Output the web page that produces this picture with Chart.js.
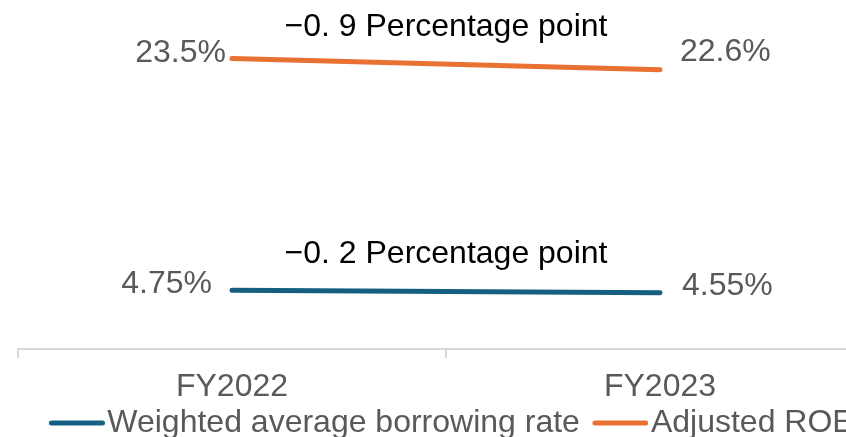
<!DOCTYPE html>
<html>
<head>
<meta charset="utf-8">
<script src="https://cdn.jsdelivr.net/npm/chart.js@4.4.1/dist/chart.umd.min.js"></script>
<style>
  html, body { margin: 0; padding: 0; background: #fff; overflow: hidden; }
  #wrap { width: 880px; height: 437px; }
</style>
</head>
<body>
<div id="wrap"><canvas id="c" width="880" height="437"></canvas></div>
<script>
// ---- data ----
const categories = ["FY2022", "FY2023"];
const borrowingRate = [4.75, 4.55];
const adjustedROE = [23.5, 22.6];
const seriesNames = ["Weighted average borrowing rate", "Adjusted ROE"];
const changeLabels = ["\u22120. 2 Percentage point", "\u22120. 9 Percentage point"];

const FONT = "'Liberation Sans', Arial, Helvetica, sans-serif";
const BLUE = "#156082";
const ORANGE = "#E97132";
const GREY = "#595959";

// legend line swatch as an image
function swatch(color) {
  const c = document.createElement('canvas');
  const W = 80, H = 10;
  c.width = W; c.height = H;
  const g = c.getContext('2d');
  g.strokeStyle = color; g.lineWidth = 5; g.lineCap = 'round';
  g.beginPath(); g.moveTo(26.5, H / 2); g.lineTo(W - 2.5, H / 2); g.stroke();
  return c;
}

// per-point label placement (dx, dy, align) – styling only
const labelPlacement = [
  [[-20, -6, 'right'], [22, -7, 'left']],
  [[-6, -5, 'right'], [20, -18, 'left']]
];

const labelsPlugin = {
  id: 'valueLabels',
  afterDatasetsDraw(chart) {
    const ctx = chart.ctx;
    ctx.save();
    ctx.font = "32px " + FONT;
    ctx.textBaseline = 'middle';
    chart.data.datasets.forEach((ds, di) => {
      const meta = chart.getDatasetMeta(di);
      meta.data.forEach((pt, i) => {
        const [dx, dy, al] = labelPlacement[di][i];
        ctx.fillStyle = GREY;
        ctx.textAlign = al;
        ctx.fillText(ds.data[i] + "%", pt.x + dx, pt.y + dy);
      });
      // change annotation centred between the two points
      const p0 = meta.data[0], p1 = meta.data[1];
      ctx.fillStyle = "#000";
      ctx.textAlign = 'center';
      ctx.fillText(changeLabels[di], (p0.x + p1.x) / 2, (p0.y + p1.y) / 2 - 37);
    });
    ctx.restore();
  }
};

new Chart(document.getElementById('c'), {
  type: 'line',
  data: {
    labels: categories,
    datasets: [
      { label: seriesNames[0], data: borrowingRate, borderColor: BLUE, backgroundColor: BLUE,
        borderWidth: 5, borderCapStyle: 'round', pointRadius: 0, pointStyle: swatch(BLUE), tension: 0 },
      { label: seriesNames[1], data: adjustedROE, borderColor: ORANGE, backgroundColor: ORANGE,
        borderWidth: 5, borderCapStyle: 'round', pointRadius: 0, pointStyle: swatch(ORANGE), tension: 0 }
    ]
  },
  options: {
    responsive: false,
    animation: false,
    layout: { padding: { left: 18, right: 6, top: 3, bottom: -12 } },
    plugins: {
      tooltip: { enabled: false },
      legend: {
        position: 'bottom',
        labels: {
          usePointStyle: true,
          pointStyleWidth: 53,
          boxHeight: 10,
          padding: 2,
          color: GREY,
          font: { family: FONT, size: 32, lineHeight: 1.0 }
        }
      }
    },
    scales: {
      x: {
        offset: true,
        grid: { display: true, offset: true, drawOnChartArea: false, drawTicks: true, tickLength: 9, color: '#d9d9d9', lineWidth: 2 },
        border: { display: true, color: '#d9d9d9', width: 2 },
        ticks: { color: GREY, padding: 10, font: { family: FONT, size: 32 } },
        afterFit(s) { s.height = 56; }
      },
      y: { display: false, min: 0, max: 28 }
    }
  },
  plugins: [labelsPlugin]
});
</script>
</body>
</html>
